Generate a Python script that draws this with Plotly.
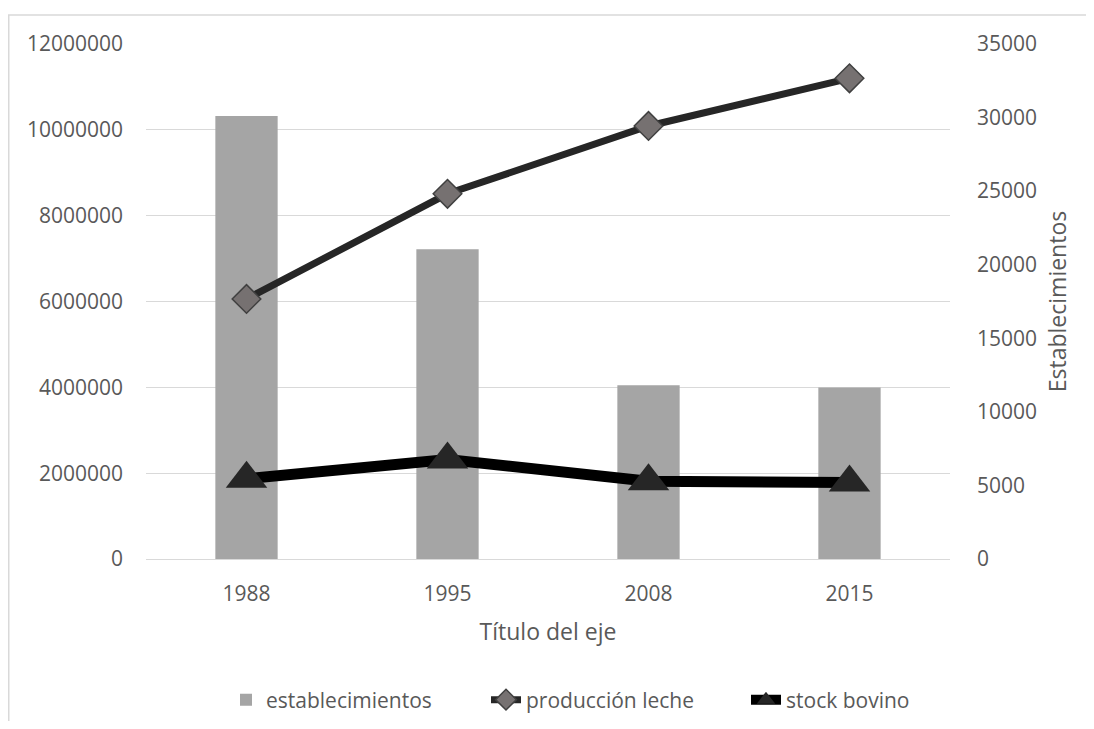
import plotly.graph_objects as go

years = ["1988", "1995", "2008", "2015"]
establecimientos = [30100, 21050, 11800, 11650]
produccion_leche = [6060000, 8510000, 10090000, 11200000]
stock_bovino = [1870000, 2320000, 1810000, 1780000]

left_ticks = [0, 2000000, 4000000, 6000000, 8000000, 10000000, 12000000]
right_ticks = [0, 5000, 10000, 15000, 20000, 25000, 30000, 35000]

TXT = "#595959"
GRID = "#D9D9D9"
FONT = "Open Sans"

fig = go.Figure()
fig.add_trace(go.Bar(
    x=years, y=establecimientos, name="establecimientos",
    marker=dict(color="#A5A5A5", line=dict(width=0)),
    yaxis="y",
))
fig.add_trace(go.Scatter(
    x=years, y=produccion_leche, name="producción leche",
    mode="lines+markers",
    line=dict(color="#262626", width=7),
    marker=dict(symbol="diamond", size=22, color="#767171",
                line=dict(color="#404040", width=1.5)),
    yaxis="y2",
))
fig.add_trace(go.Scatter(
    x=years, y=stock_bovino, name="stock bovino",
    mode="lines+markers",
    line=dict(color="#000000", width=11),
    marker=dict(symbol="triangle-up", size=36, color="#262626",
                line=dict(color="#262626", width=0)),
    yaxis="y2",
))

# the page has an 8px body margin on every side; work in figure coordinates
OFF = 8
W, H = 1094 - 2 * OFF, 729 - 2 * OFF
L, R, T, B = 146 - OFF, 950 - OFF, 44 - OFF, 559 - OFF
pw, ph = R - L, B - T

fig.update_layout(
    width=W, height=H,
    margin=dict(l=L, r=W - R, t=T, b=H - B, pad=0),
    paper_bgcolor="white", plot_bgcolor="white",
    font=dict(family=FONT, size=21, color=TXT),
    bargap=0.69,
    showlegend=True,
    legend=dict(
        orientation="h", x=(226 - OFF - L) / pw, xanchor="left",
        yref="container", y=(H - (700 - OFF)) / H, yanchor="middle",
        font=dict(family=FONT, size=21, color=TXT),
        bgcolor="rgba(0,0,0,0)",
        entrywidth=215, entrywidthmode="pixels",
        traceorder="normal",
    ),
    xaxis=dict(
        type="category", categoryorder="array", categoryarray=years,
        showgrid=False, showline=True, linecolor=GRID, linewidth=1,
        ticks="", ticklabelstandoff=16,
        tickfont=dict(family=FONT, size=21, color=TXT),
        title=dict(text="Título del eje", standoff=17,
                   font=dict(family=FONT, size=23, color=TXT)),
        anchor="y",
    ),
    yaxis=dict(
        side="right", range=[0, 35000], tickvals=right_ticks,
        tickformat="d", showgrid=False, zeroline=False, showline=False,
        ticks="", ticklabelstandoff=26,
        tickfont=dict(family=FONT, size=21, color=TXT),
        title=dict(text="Establecimientos", standoff=13,
                   font=dict(family=FONT, size=23, color=TXT)),
    ),
    yaxis2=dict(
        side="left", overlaying="y", range=[0, 12000000], tickvals=left_ticks,
        tickformat="d", showgrid=True, gridcolor=GRID, gridwidth=1,
        zeroline=False, showline=False,
        ticks="", ticklabelstandoff=22,
        tickfont=dict(family=FONT, size=21, color=TXT),
    ),
    shapes=[dict(
        type="rect", xref="paper", yref="paper",
        x0=(0.75 - L) / pw, x1=(W + 20 - L) / pw,
        y0=(B - (H + 20)) / ph, y1=(B - (15 - OFF)) / ph,
        line=dict(color=GRID, width=1.5), fillcolor="rgba(0,0,0,0)",
        layer="below",
    )],
)

fig.write_html("out.html")
